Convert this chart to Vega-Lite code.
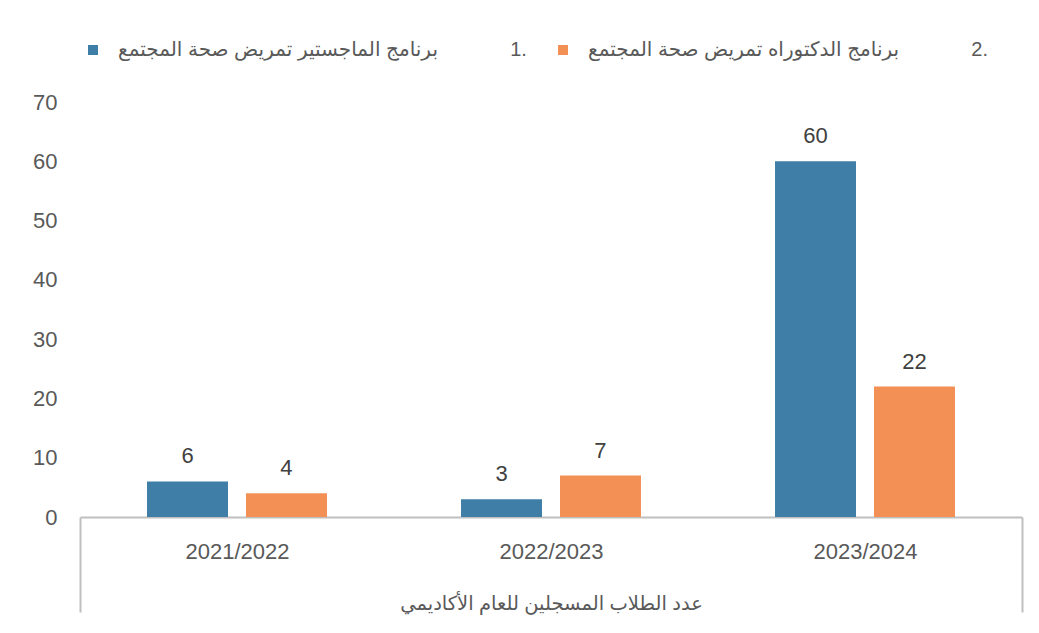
{
  "$schema": "https://vega.github.io/schema/vega-lite/v6.json",
  "width": 942,
  "height": 415,
  "autosize": "none",
  "padding": {"left": 80, "top": 102, "right": 17, "bottom": 116},
  "background": "white",
  "config": {
    "view": {"stroke": null},
    "font": "Liberation Sans, DejaVu Sans, sans-serif"
  },
  "data": {
    "values": [
      {"year": "2021/2022", "program": "برنامج الماجستير تمريض صحة المجتمع", "value": 6},
      {"year": "2021/2022", "program": "برنامج الدكتوراه تمريض صحة المجتمع", "value": 4},
      {"year": "2022/2023", "program": "برنامج الماجستير تمريض صحة المجتمع", "value": 3},
      {"year": "2022/2023", "program": "برنامج الدكتوراه تمريض صحة المجتمع", "value": 7},
      {"year": "2023/2024", "program": "برنامج الماجستير تمريض صحة المجتمع", "value": 60},
      {"year": "2023/2024", "program": "برنامج الدكتوراه تمريض صحة المجتمع", "value": 22}
    ]
  },
  "encoding": {
    "x": {
      "field": "year",
      "type": "nominal",
      "sort": null,
      "scale": {"paddingInner": 0, "paddingOuter": 0},
      "axis": {
        "title": "عدد الطلاب المسجلين للعام الأكاديمي",
        "labelAngle": 0,
        "labelFontSize": 22,
        "labelColor": "#595959",
        "labelPadding": -61,
        "labelBaseline": "middle",
        "domainColor": "#bfbfbf",
        "domainWidth": 2,
        "tickBand": "extent",
        "tickSize": 95,
        "tickColor": "#bfbfbf",
        "tickWidth": 2,
        "tickOpacity": {"condition": {"test": "datum.index == 1 || datum.index < 0", "value": 1}, "value": 0},
        "titleFontSize": 19.5,
        "titleColor": "#595959",
        "titleFontWeight": "normal",
        "titleY": 86,
        "titleBaseline": "middle"
      }
    },
    "xOffset": {
      "field": "program",
      "type": "nominal",
      "sort": ["برنامج الماجستير تمريض صحة المجتمع", "برنامج الدكتوراه تمريض صحة المجتمع"],
      "scale": {"paddingInner": 0.182, "paddingOuter": 0.677}
    },
    "y": {
      "field": "value",
      "type": "quantitative",
      "scale": {"domain": [0, 70]},
      "axis": {
        "title": null,
        "domain": false,
        "ticks": false,
        "grid": false,
        "values": [0, 10, 20, 30, 40, 50, 60, 70],
        "labelFontSize": 22,
        "labelColor": "#595959",
        "labelPadding": 23
      }
    }
  },
  "layer": [
    {
      "mark": {"type": "bar"},
      "encoding": {
        "color": {
          "field": "program",
          "type": "nominal",
          "scale": {
            "domain": ["برنامج الماجستير تمريض صحة المجتمع", "برنامج الدكتوراه تمريض صحة المجتمع"],
            "range": ["#3F7EA6", "#F29055"]
          },
          "legend": {
            "orient": "none",
            "legendX": 3,
            "legendY": -62,
            "direction": "horizontal",
            "title": null,
            "symbolType": "square",
            "symbolSize": 100,
            "symbolStrokeWidth": 0,
            "labelFontSize": 20,
            "labelColor": "#595959",
            "labelLimit": 700,
            "columnPadding": 26,
            "labelOffset": 15,
            "labelExpr": "datum.label + '\u00a0\u00a0\u00a0\u00a0\u00a0\u00a0\u00a0\u00a0\u00a0\u00a0\u00a0\u00a0\u00a0\u200e' + (indexof(datum.label, 'الماجستير') >= 0 ? '1.' : '2.')"
          }
        }
      }
    },
    {
      "mark": {"type": "text", "baseline": "middle", "dy": -25, "fontSize": 22, "color": "#404040"},
      "encoding": {"text": {"field": "value", "type": "quantitative"}}
    }
  ]
}
